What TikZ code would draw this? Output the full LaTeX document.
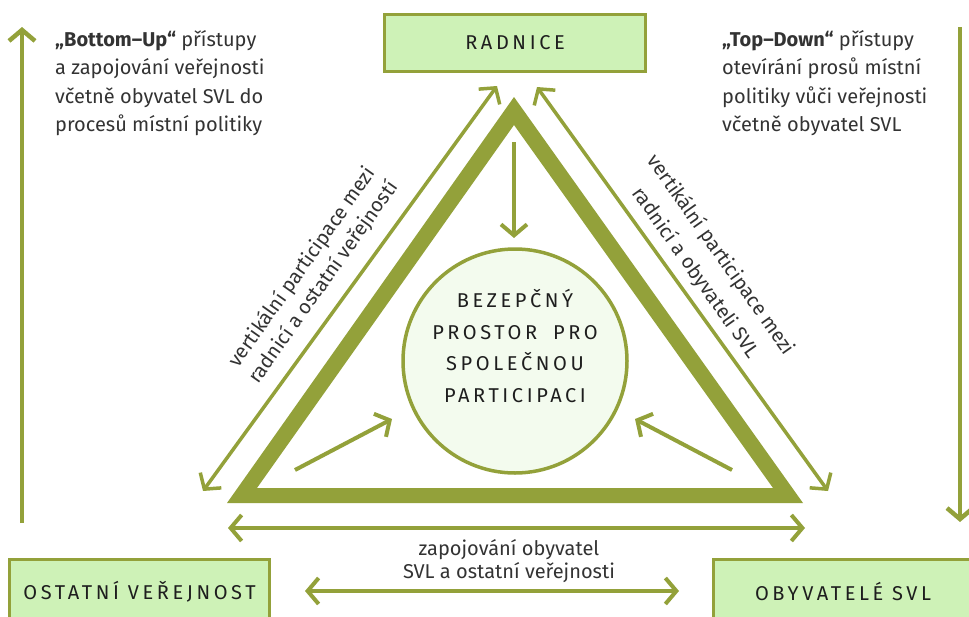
\documentclass[tikz,border=0pt]{standalone}
\usepackage{fontspec}
\setmainfont{Fira Sans}
\newfontfamily\spacedcaps[LetterSpace=18]{Fira Sans}
\usetikzlibrary{arrows.meta}
\definecolor{leaf}{HTML}{93A13A}
\definecolor{boxfill}{HTML}{CEF2B7}
\definecolor{circfill}{HTML}{F3FBEE}
\definecolor{ink}{HTML}{333333}
\definecolor{capink}{HTML}{1E1E1E}

\begin{document}
\begin{tikzpicture}[x=1pt,y=-1pt,
  >={Straight Barb[length=11pt,width=26pt]},
  flow/.style={draw=leaf, line width=4pt, ->},
  twoway/.style={draw=leaf, line width=3.5pt, <->},
  actor/.style={draw=leaf, line width=3pt, fill=boxfill, inner sep=0pt,
    text=capink, font=\spacedcaps\fontsize{20}{22}\selectfont},
  note/.style={inner sep=0pt, text=ink, font=\fontsize{20}{28.5}\selectfont},
  sidenote/.style={inner sep=0pt, text=ink, align=center, font=\fontsize{20}{28}\selectfont}]

\useasboundingbox (0,0) rectangle (969,616);

% outer frame of the triangle (a thick band)
\coordinate (apexO) at (514,97);
\coordinate (leftO) at (227,503);
\coordinate (rightO) at (803,503);
\coordinate (apexI) at (514,125);
\coordinate (leftI) at (257,488);
\coordinate (rightI) at (773,488);
\fill[leaf, even odd rule] (apexO) -- (rightO) -- (leftO) -- cycle
                           (apexI) -- (rightI) -- (leftI) -- cycle;

% actors
\node[actor, minimum width=261pt, minimum height=57pt] (radnice) at (515,43) {RADNICE};
\node[actor, minimum width=260pt, minimum height=64pt] (public) at (139.5,591.5) {OSTATNÍ VEŘEJNOST};
\node[actor, minimum width=259pt, minimum height=64pt] (residents) at (843,591.5) {OBYVATELÉ SVL};

% safe space in the middle
\node[circle, draw=leaf, line width=3.5pt, fill=circfill, minimum size=224pt, inner sep=0pt] (space) at (515,361) {};
\node[anchor=base, align=center, inner sep=0pt, text=capink,
      font=\spacedcaps\fontsize{20}{31.5}\selectfont] (spacetext) at (515,402)
  {BEZEPČNÝ\\PROSTOR\hspace{0.35em} PRO\\SPOLEČNOU\\PARTICIPACI};

% arrow end points
\coordinate (vl0) at (22,523);  \coordinate (vl1) at (22,27);
\coordinate (vr0) at (960,27);  \coordinate (vr1) at (960,522);
\coordinate (dl1) at (497,86);  \coordinate (dl2) at (203,491);
\coordinate (dr1) at (537,87);  \coordinate (dr2) at (828,491);
\coordinate (hb1) at (228,528); \coordinate (hb2) at (805,528);
\coordinate (hc1) at (305,591); \coordinate (hc2) at (679,591);
\coordinate (in0) at (514,142); \coordinate (in1) at (514,238);
\coordinate (il0) at (295,470); \coordinate (il1) at (392,419);
\coordinate (ir0) at (732,470); \coordinate (ir1) at (635,419);

% bottom-up and top-down
\draw[flow, line width=4.5pt] (vl0) -- (vl1);
\draw[flow, line width=4.5pt] (vr0) -- (vr1);

% participation along the sides
\draw[twoway] (dl1) -- (dl2);
\draw[twoway] (dr1) -- (dr2);
\draw[twoway, line width=4pt] (hb1) -- (hb2);
\draw[twoway, line width=4pt] (hc1) -- (hc2);

% inflows into the safe space
\draw[flow] (in0) -- (in1);
\draw[flow] (il0) -- (il1);
\draw[flow] (ir0) -- (ir1);

% texts
\node[note, anchor=base west, align=left] (bottomup) at (55,131.5)
  {\textbf{„Bottom–Up“} přístupy\\a zapojování veřejnosti\\včetně obyvatel SVL do\\procesů místní politiky};
\node[note, anchor=base west, align=left] (topdown) at (722,131.5)
  {\textbf{„Top–Down“} přístupy\\otevírání prosů místní\\politiky vůči veřejnosti\\včetně obyvatel SVL};
\node[sidenote, rotate=54.7, font=\fontsize{20}{26}\selectfont] (leftnote) at (313,275)
  {vertikální participace mezi\\radnicí a ostatní veřejností};
\node[sidenote, rotate=-54.7, font=\fontsize{20}{31}\selectfont] (rightnote) at (708,264)
  {vertikální participace mezi\\radnicí a obyvateli SVL};
\node[sidenote, anchor=base, font=\fontsize{20}{23}\selectfont] (bottomnote) at (509,578)
  {zapojování obyvatel\\SVL a ostatní veřejnosti};
\end{tikzpicture}
\end{document}
